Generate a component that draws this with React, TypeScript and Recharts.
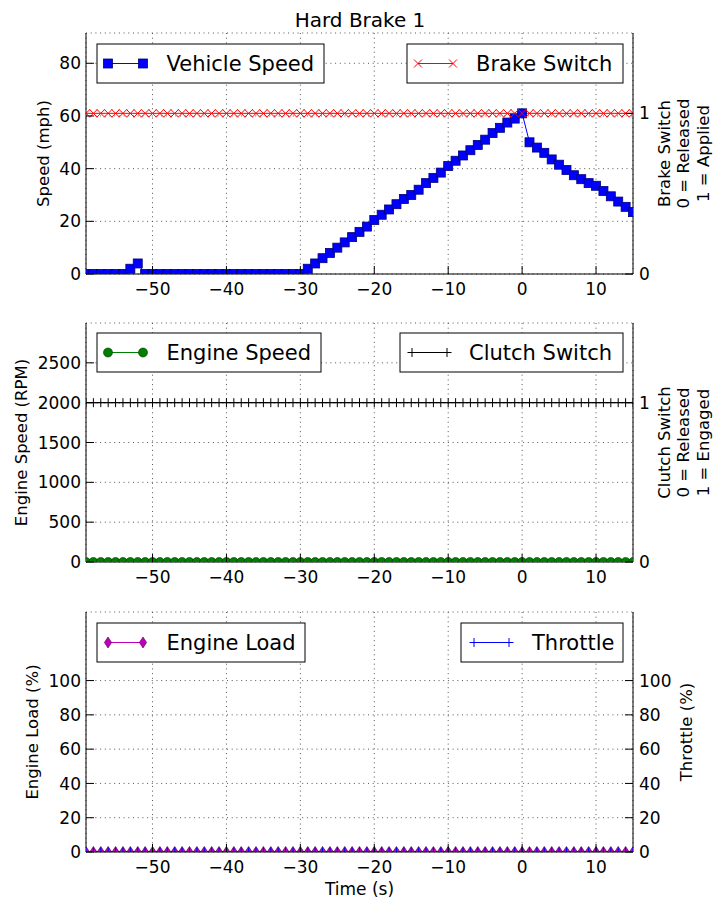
import React from 'react';
import { LineChart, Line, XAxis, YAxis, CartesianGrid } from 'recharts';

// sample times, one per second
const times = [
  -59, -58, -57, -56, -55, -54, -53, -52, -51, -50, -49, -48, -47, -46, -45,
  -44, -43, -42, -41, -40, -39, -38, -37, -36, -35, -34, -33, -32, -31, -30,
  -29, -28, -27, -26, -25, -24, -23, -22, -21, -20, -19, -18, -17, -16, -15,
  -14, -13, -12, -11, -10, -9, -8, -7, -6, -5, -4, -3, -2, -1, 0,
  1, 2, 3, 4, 5, 6, 7, 8, 9, 10, 11, 12, 13, 14, 15,
];

const vehicleSpeed = [
  0, 0, 0, 0, 0, 0, 2, 4, 0, 0, 0, 0, 0, 0, 0,
  0, 0, 0, 0, 0, 0, 0, 0, 0, 0, 0, 0, 0, 0, 0,
  2, 4, 6, 8, 10, 12, 14, 16, 18, 20.5, 22.5, 24.5, 26.5, 28.5, 30,
  32, 34.5, 36.5, 38.5, 41, 43, 45, 47, 49, 51, 53.5, 55.5, 57.5, 59, 61,
  50, 48, 46, 43.5, 41.5, 39.5, 37.5, 36, 34.5, 33.5, 31.5, 29.5, 27.5, 25.5, 23.5,
];

const brakeSwitch = [
  1, 1, 1, 1, 1, 1, 1, 1, 1, 1, 1, 1, 1, 1, 1,
  1, 1, 1, 1, 1, 1, 1, 1, 1, 1, 1, 1, 1, 1, 1,
  1, 1, 1, 1, 1, 1, 1, 1, 1, 1, 1, 1, 1, 1, 1,
  1, 1, 1, 1, 1, 1, 1, 1, 1, 1, 1, 1, 1, 1, 1,
  1, 1, 1, 1, 1, 1, 1, 1, 1, 1, 1, 1, 1, 1, 1,
];

const engineSpeed = [
  0, 0, 0, 0, 0, 0, 0, 0, 0, 0, 0, 0, 0, 0, 0,
  0, 0, 0, 0, 0, 0, 0, 0, 0, 0, 0, 0, 0, 0, 0,
  0, 0, 0, 0, 0, 0, 0, 0, 0, 0, 0, 0, 0, 0, 0,
  0, 0, 0, 0, 0, 0, 0, 0, 0, 0, 0, 0, 0, 0, 0,
  0, 0, 0, 0, 0, 0, 0, 0, 0, 0, 0, 0, 0, 0, 0,
];

const clutchSwitch = [
  1, 1, 1, 1, 1, 1, 1, 1, 1, 1, 1, 1, 1, 1, 1,
  1, 1, 1, 1, 1, 1, 1, 1, 1, 1, 1, 1, 1, 1, 1,
  1, 1, 1, 1, 1, 1, 1, 1, 1, 1, 1, 1, 1, 1, 1,
  1, 1, 1, 1, 1, 1, 1, 1, 1, 1, 1, 1, 1, 1, 1,
  1, 1, 1, 1, 1, 1, 1, 1, 1, 1, 1, 1, 1, 1, 1,
];

const engineLoad = [
  0, 0, 0, 0, 0, 0, 0, 0, 0, 0, 0, 0, 0, 0, 0,
  0, 0, 0, 0, 0, 0, 0, 0, 0, 0, 0, 0, 0, 0, 0,
  0, 0, 0, 0, 0, 0, 0, 0, 0, 0, 0, 0, 0, 0, 0,
  0, 0, 0, 0, 0, 0, 0, 0, 0, 0, 0, 0, 0, 0, 0,
  0, 0, 0, 0, 0, 0, 0, 0, 0, 0, 0, 0, 0, 0, 0,
];

const throttle = [
  0, 0, 0, 0, 0, 0, 0, 0, 0, 0, 0, 0, 0, 0, 0,
  0, 0, 0, 0, 0, 0, 0, 0, 0, 0, 0, 0, 0, 0, 0,
  0, 0, 0, 0, 0, 0, 0, 0, 0, 0, 0, 0, 0, 0, 0,
  0, 0, 0, 0, 0, 0, 0, 0, 0, 0, 0, 0, 0, 0, 0,
  0, 0, 0, 0, 0, 0, 0, 0, 0, 0, 0, 0, 0, 0, 0,
];

const xTicks = [-50, -40, -30, -20, -10, 0, 10];
const speedTicks = [0, 20, 40, 60, 80];
const switchTicks = [0, 1];
const rpmTicks = [0, 500, 1000, 1500, 2000, 2500];
const pctTicks = [0, 20, 40, 60, 80, 100];

const topRows = times.map((t, i) => ({ t, speed: vehicleSpeed[i], brake: brakeSwitch[i] }));
const midRows = times.map((t, i) => ({ t, rpm: engineSpeed[i], clutch: clutchSwitch[i] }));
const botRows = times.map((t, i) => ({ t, load: engineLoad[i], throttle: throttle[i] }));

const FONT = '"DejaVu Sans", Verdana, sans-serif';
const W = 713;
const TICK_FS = 17;
const GRID = { stroke: '#555', strokeDasharray: '1 3.7', strokeWidth: 1 };

const fmt = (v: number) => String(v).replace('-', '\u2212');

// ---- tick renderers (matplotlib classic: ticks point inside) ----
const BottomTick = (p: any) => (
  <g>
    <line x1={p.x} x2={p.x} y1={p.y} y2={p.y - 8} stroke="#000" />
    <text x={p.x} y={p.y + 21} textAnchor="middle" fontSize={TICK_FS} fill="#000">
      {fmt(p.payload.value)}
    </text>
  </g>
);
const TopTick = (p: any) => <line x1={p.x} x2={p.x} y1={p.y} y2={p.y + 8} stroke="#000" />;
const LeftTick = (p: any) => (
  <g>
    <line x1={p.x} x2={p.x + 8} y1={p.y} y2={p.y} stroke="#000" />
    <text x={p.x - 5} y={p.y} dy="0.36em" textAnchor="end" fontSize={TICK_FS} fill="#000">
      {fmt(p.payload.value)}
    </text>
  </g>
);
const RightTick = (p: any) => (
  <g>
    <line x1={p.x} x2={p.x - 8} y1={p.y} y2={p.y} stroke="#000" />
    <text x={p.x + 6} y={p.y} dy="0.36em" textAnchor="start" fontSize={TICK_FS} fill="#000">
      {fmt(p.payload.value)}
    </text>
  </g>
);

const vLabel = (lines: string[], cx: number, cy: number, gap = 19.5) => () => (
  <g>
    {lines.map((s, i) => (
      <text
        key={i}
        x={cx + i * gap}
        y={cy}
        dy="0.36em"
        transform={`rotate(-90 ${cx + i * gap} ${cy})`}
        textAnchor="middle"
        fontSize={16.5}
        fill="#000"
      >
        {s}
      </text>
    ))}
  </g>
);

// ---- markers ----
const Square = ({ cx, cy }: any) => (
  <rect x={cx - 4.5} y={cy - 4.5} width={9} height={9} fill="#0000ff" stroke="#00007a" strokeWidth={0.8} />
);
const Cross = ({ cx, cy, color }: any) => (
  <g stroke={color} strokeWidth={1}>
    <line x1={cx - 4} y1={cy - 4} x2={cx + 4} y2={cy + 4} />
    <line x1={cx - 4} y1={cy + 4} x2={cx + 4} y2={cy - 4} />
  </g>
);
const Plus = ({ cx, cy, color }: any) => (
  <g stroke={color} strokeWidth={1}>
    <line x1={cx - 4.5} y1={cy} x2={cx + 4.5} y2={cy} />
    <line x1={cx} y1={cy - 4.5} x2={cx} y2={cy + 4.5} />
  </g>
);
const Circle = ({ cx, cy }: any) => (
  <circle cx={cx} cy={cy} r={4.5} fill="#008000" stroke="#003000" strokeWidth={0.6} />
);
const Diamond = ({ cx, cy }: any) => (
  <polygon
    points={`${cx},${cy - 5.5} ${cx + 3.6},${cy} ${cx},${cy + 5.5} ${cx - 3.6},${cy}`}
    fill="#bf00bf"
    stroke="#400040"
    strokeWidth={0.6}
  />
);

const dotOf = (Shape: any, color?: string) => (p: any) => (
  <Shape key={`d-${p.index}`} cx={p.cx} cy={p.cy} color={color} />
);

// ---- legend box (drawn in page overlay) ----
const LegendBox = ({ x, y, w, mx, text, tx, stroke, Shape, color }: any) => {
  const cy = y + 19.5;
  return (
    <g>
      <rect x={x} y={y} width={w} height={39} fill="#fff" stroke="#000" strokeWidth={1} />
      <line x1={mx} x2={mx + 35} y1={cy} y2={cy} stroke={stroke} strokeWidth={1} />
      <Shape cx={mx} cy={cy} color={color} />
      <Shape cx={mx + 35} cy={cy} color={color} />
      <text x={tx} y={y + 26.5} fontSize={21} fill="#000">
        {text}
      </text>
    </g>
  );
};

const frameAxes = (bottomHeight: number, leftId: string, rightId: string, leftDomain: number[], leftTicks: number[], rightDomain: number[], rightTicks: number[], leftLabel: any, rightLabel: any, xLabel?: any) => [
  <CartesianGrid key="g" xAxisId="b" yAxisId={leftId} {...GRID} />,
  <XAxis
    key="xb"
    xAxisId="b"
    dataKey="t"
    type="number"
    domain={[-59, 15]}
    ticks={xTicks}
    interval={0}
    allowDataOverflow
    height={bottomHeight}
    tickSize={0}
    tickMargin={0}
    tickLine={false}
    axisLine={{ stroke: '#000' }}
    tick={BottomTick}
    label={xLabel}
  />,
  <XAxis
    key="xt"
    xAxisId="top"
    orientation="top"
    dataKey="t"
    type="number"
    domain={[-59, 15]}
    ticks={xTicks}
    interval={0}
    allowDataOverflow
    height={0}
    tickSize={0}
    tickMargin={0}
    tickLine={false}
    axisLine={{ stroke: '#000' }}
    tick={TopTick}
  />,
  <YAxis
    key="yl"
    yAxisId={leftId}
    type="number"
    domain={leftDomain}
    ticks={leftTicks}
    interval={0}
    allowDataOverflow
    width={86}
    tickSize={0}
    tickMargin={0}
    tickLine={false}
    axisLine={{ stroke: '#000' }}
    tick={LeftTick}
    label={leftLabel}
  />,
  <YAxis
    key="yr"
    yAxisId={rightId}
    orientation="right"
    type="number"
    domain={rightDomain}
    ticks={rightTicks}
    interval={0}
    allowDataOverflow
    width={80}
    tickSize={0}
    tickMargin={0}
    tickLine={false}
    axisLine={{ stroke: '#000' }}
    tick={RightTick}
    label={rightLabel}
  />,
];

export default function App() {
  return (
    <div style={{ position: 'absolute', left: 0, top: 0, width: W, height: 902, fontFamily: FONT, background: '#fff' }}>
      {/* Panel 1: vehicle speed / brake switch */}
      <div style={{ position: 'absolute', left: 0, top: 0 }}>
        <LineChart width={W} height={300} data={topRows} margin={{ top: 33, right: 0, bottom: 0, left: 0 }}>
          {frameAxes(
            26, 'l', 'r', [0, 91.5], speedTicks, [0, 1.5], switchTicks,
            vLabel(['Speed (mph)'], 43, 153.5),
            vLabel(['Brake Switch', '0 = Released', '1 = Applied'], 664, 153.5),
          )}
          <Line xAxisId="b" yAxisId="l" dataKey="speed" type="linear" stroke="#0000ff" strokeWidth={1}
            dot={dotOf(Square)} activeDot={false} isAnimationActive={false} />
          <Line xAxisId="b" yAxisId="r" dataKey="brake" type="linear" stroke="#ff0000" strokeWidth={1}
            dot={dotOf(Cross, '#ff0000')} activeDot={false} isAnimationActive={false} />
        </LineChart>
      </div>

      {/* Panel 2: engine speed / clutch switch */}
      <div style={{ position: 'absolute', left: 0, top: 300 }}>
        <LineChart width={W} height={300} data={midRows} margin={{ top: 23, right: 0, bottom: 0, left: 0 }}>
          {frameAxes(
            38, 'l', 'r', [0, 3000], rpmTicks, [0, 1.5], switchTicks,
            vLabel(['Engine Speed (RPM)'], 21, 142.5),
            vLabel(['Clutch Switch', '0 = Released', '1 = Engaged'], 664, 142.5),
          )}
          <Line xAxisId="b" yAxisId="l" dataKey="rpm" type="linear" stroke="#008000" strokeWidth={1}
            dot={dotOf(Circle)} activeDot={false} isAnimationActive={false} />
          <Line xAxisId="b" yAxisId="r" dataKey="clutch" type="linear" stroke="#000000" strokeWidth={1}
            dot={dotOf(Plus, '#000000')} activeDot={false} isAnimationActive={false} />
        </LineChart>
      </div>

      {/* Panel 3: engine load / throttle */}
      <div style={{ position: 'absolute', left: 0, top: 600 }}>
        <LineChart width={W} height={302} data={botRows} margin={{ top: 12, right: 0, bottom: 0, left: 0 }}>
          {frameAxes(
            50, 'l', 'r', [0, 140], pctTicks, [0, 140], pctTicks,
            vLabel(['Engine Load (%)'], 32.5, 132),
            vLabel(['Throttle (%)'], 686, 132),
            () => (
              <text x={359.5} y={289} dy="0.36em" textAnchor="middle" fontSize={17} fill="#000">
                Time (s)
              </text>
            ),
          )}
          <Line xAxisId="b" yAxisId="l" dataKey="load" type="linear" stroke="#bf00bf" strokeWidth={1}
            dot={dotOf(Diamond)} activeDot={false} isAnimationActive={false} />
          <Line xAxisId="b" yAxisId="r" dataKey="throttle" type="linear" stroke="#0000ff" strokeWidth={1}
            dot={dotOf(Plus, '#0000ff')} activeDot={false} isAnimationActive={false} />
        </LineChart>
      </div>

      {/* title and legends */}
      <svg width={W} height={902} style={{ position: 'absolute', left: 0, top: 0, pointerEvents: 'none' }}>
        <text x={360} y={27} textAnchor="middle" fontSize={20} fill="#000">
          Hard Brake 1
        </text>
        <LegendBox x={97} y={44} w={227} mx={108} tx={166.5} text="Vehicle Speed" stroke="#0000ff" Shape={Square} />
        <LegendBox x={407} y={44} w={216} mx={418} tx={476} text="Brake Switch" stroke="#ff0000" Shape={Cross} color="#ff0000" />
        <LegendBox x={97} y={333} w={224} mx={108} tx={166.5} text="Engine Speed" stroke="#008000" Shape={Circle} />
        <LegendBox x={400} y={333} w={223} mx={412} tx={469} text="Clutch Switch" stroke="#000000" Shape={Plus} color="#000000" />
        <LegendBox x={97} y={623} w={208} mx={108} tx={166.5} text="Engine Load" stroke="#bf00bf" Shape={Diamond} />
        <LegendBox x={461} y={623} w={162} mx={474} tx={532} text="Throttle" stroke="#0000ff" Shape={Plus} color="#0000ff" />
      </svg>
    </div>
  );
}
